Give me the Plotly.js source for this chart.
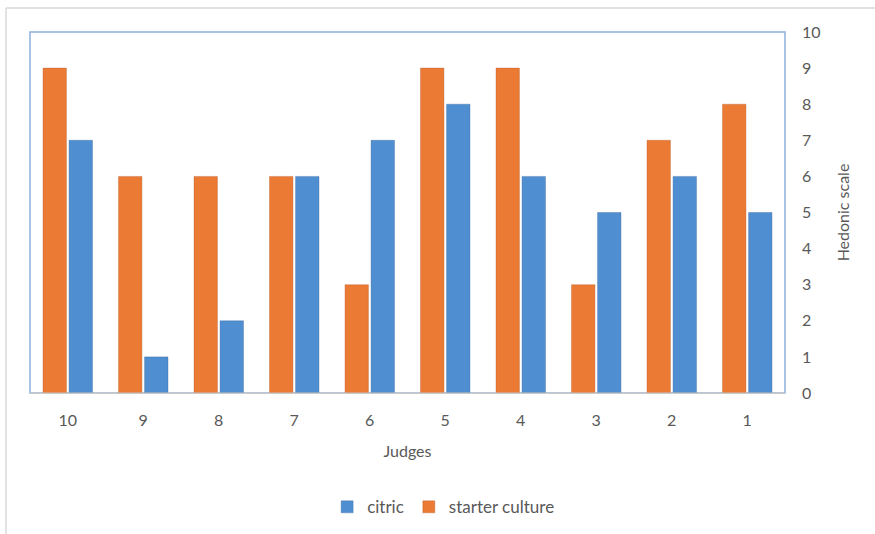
<!DOCTYPE html>
<html>
<head>
<meta charset="utf-8">
<script src="https://cdn.plot.ly/plotly-3.0.1.min.js"></script>
<style>
html,body{margin:0;padding:0;background:#fff;}
#chart{width:875px;height:534px;}
</style>
</head>
<body>
<div id="chart"></div>
<script>
const judges = ["10","9","8","7","6","5","4","3","2","1"];
const citric = [7, 1, 2, 6, 7, 8, 6, 5, 6, 5];
const starterCulture = [9, 6, 6, 6, 3, 9, 9, 3, 7, 8];
const yTicks = [0,1,2,3,4,5,6,7,8,9,10];

const font = "Lato, 'Open Sans', sans-serif";
const gray = "#595959";

const traces = [
  {
    type: "bar", name: "starter culture", x: judges, y: starterCulture,
    marker: {color: "#EB7A35", line: {color: "rgba(180,90,40,0.35)", width: 1}},
    legendrank: 2, hoverinfo: "x+y+name"
  },
  {
    type: "bar", name: "citric", x: judges, y: citric,
    marker: {color: "#4F8FD1", line: {color: "rgba(60,100,150,0.35)", width: 1}},
    legendrank: 1, hoverinfo: "x+y+name"
  }
];

const layout = {
  width: 875, height: 534,
  margin: {l: 30, r: 90, t: 32, b: 141},
  paper_bgcolor: "#ffffff", plot_bgcolor: "#ffffff",
  barmode: "group", bargap: 0.31, bargroupgap: 0.1,
  font: {family: font, size: 17, color: gray},
  showlegend: true,
  legend: {orientation: "h", xref: "container", yref: "container",
           x: 0.507, xanchor: "center", y: 0.05, yanchor: "middle",
           font: {family: font, size: 17, color: gray}, itemwidth: 30, tracegroupgap: 0},
  xaxis: {
    type: "category", categoryorder: "array", categoryarray: judges,
    showline: true, linecolor: "#c9c9c9", linewidth: 1, mirror: false,
    showgrid: false, zeroline: false, ticks: "", ticklabelstandoff: 13,
    tickfont: {family: font, size: 16, color: gray}, automargin: true,
    title: {text: "Judges", font: {family: font, size: 16, color: gray}, standoff: 17}
  },
  yaxis: {
    side: "right", range: [0, 10], tickvals: yTicks, ticktext: yTicks.map(String),
    showgrid: false, zeroline: false, showline: false, ticks: "", ticklabelstandoff: 16,
    tickfont: {family: font, size: 16, color: gray}, automargin: true,
    title: {text: "Hedonic scale", font: {family: font, size: 16, color: gray}, standoff: 18}
  },
  shapes: [
    {type: "rect", xref: "paper", yref: "paper", x0: 0, x1: 1, y0: 0, y1: 1,
     line: {color: "#8EB0DB", width: 1.5}, layer: "below"},
    {type: "line", xref: "paper", yref: "paper", x0: 0, x1: 1, y0: 0, y1: 0,
     line: {color: "#c9c9c9", width: 1}},
    {type: "line", xref: "paper", yref: "paper", x0: -0.0318, x1: 1.2, y0: 1.0665, y1: 1.0665,
     line: {color: "#d9d9d9", width: 1.5}},
    {type: "line", xref: "paper", yref: "paper", x0: -0.0318, x1: -0.0318, y0: 1.0665, y1: -0.4,
     line: {color: "#d9d9d9", width: 1.5}}
  ]
};

Plotly.newPlot("chart", traces, layout, {displayModeBar: false, staticPlot: true});
</script>
</body>
</html>
